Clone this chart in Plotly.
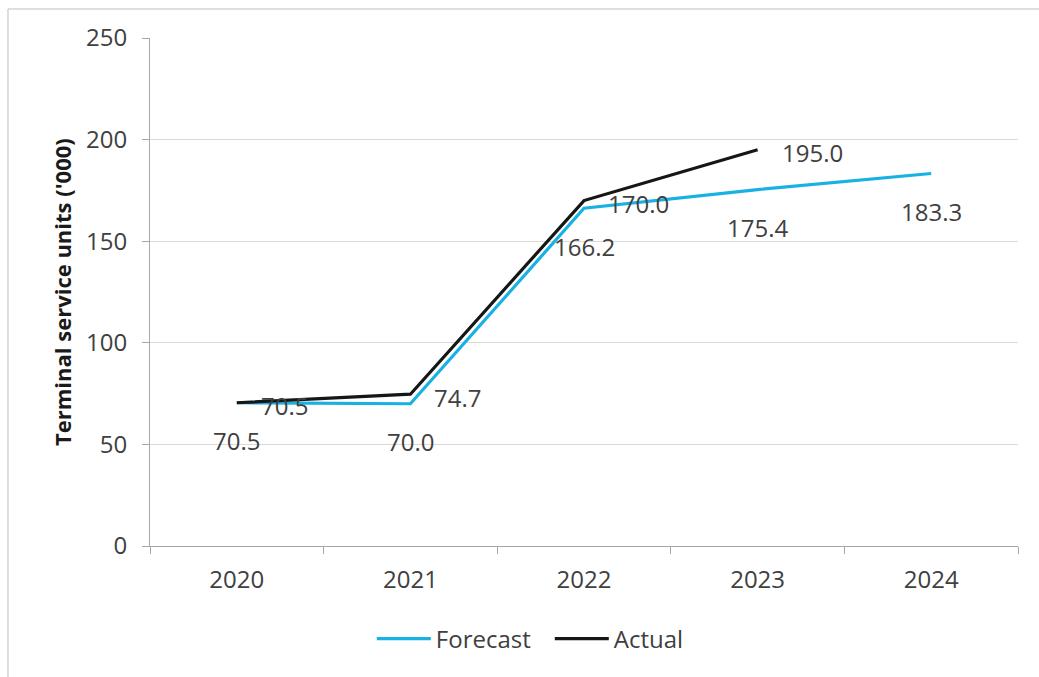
import plotly.graph_objects as go

years = ["2020", "2021", "2022", "2023", "2024"]
forecast = [70.5, 70.0, 166.2, 175.4, 183.3]
actual_years = ["2020", "2021", "2022", "2023"]
actual = [70.5, 74.7, 170.0, 195.0]

FONT = "Open Sans"
TXT = "#404040"
BLUE = "#18b1e3"
BLACK = "#161618"
FS = 24

fig = go.Figure()
fig.add_trace(go.Scatter(x=years, y=forecast, mode="lines", name="Forecast",
                         line=dict(color=BLUE, width=3.2)))
fig.add_trace(go.Scatter(x=actual_years, y=actual, mode="lines", name="Actual",
                         line=dict(color=BLACK, width=3.2)))

annotations = []
for x, v in zip(years, forecast):
    annotations.append(dict(x=years.index(x), y=v, xref="x", yref="y", text=f"{v:.1f}",
                            showarrow=False, yshift=-38, xanchor="center",
                            yanchor="middle", font=dict(family=FONT, size=FS, color=TXT)))
for x, v in zip(actual_years, actual):
    annotations.append(dict(x=years.index(x), y=v, xref="x", yref="y", text=f"{v:.1f}",
                            showarrow=False, xshift=22, yshift=-3, xanchor="left",
                            yanchor="middle", font=dict(family=FONT, size=FS, color=TXT)))
annotations.append(dict(x=-0.1014, y=0.5, xref="paper", yref="paper",
                        text="<b>Terminal service units ('000)</b>", textangle=-90,
                        showarrow=False, xanchor="center", yanchor="middle",
                        font=dict(family=FONT, size=22, color="#1a1a1a")))

fig.update_layout(
    width=1039, height=677,
    margin=dict(l=150, r=21, t=38, b=131),
    paper_bgcolor="white", plot_bgcolor="white",
    font=dict(family=FONT, size=FS, color=TXT),
    showlegend=True,
    legend=dict(orientation="h", x=0.4606, y=-0.183, xanchor="center", yanchor="middle",
                font=dict(family=FONT, size=FS, color=TXT), itemwidth=54,
                entrywidth=109, entrywidthmode="pixels",
                bgcolor="rgba(0,0,0,0)"),
    annotations=annotations,
    shapes=[dict(type="rect", xref="paper", yref="paper", x0=-0.1636, x1=1.2,
                 y0=-0.4, y1=1.0571, line=dict(color="#bfbfbf", width=1),
                 fillcolor="rgba(0,0,0,0)", layer="below")],
)
fig.update_xaxes(type="category", range=[-0.5, 4.5], showgrid=False,
                 showline=True, linecolor="#a6a6a6", linewidth=1,
                 ticks="outside", tickson="boundaries", ticklen=7, tickcolor="#a6a6a6",
                 ticklabelstandoff=12,
                 tickfont=dict(family=FONT, size=FS, color=TXT), zeroline=False)
fig.update_yaxes(range=[0, 250], dtick=50, showgrid=True, gridcolor="#d9d9d9", gridwidth=1,
                 showline=True, linecolor="#a6a6a6", linewidth=1,
                 ticks="outside", ticklen=7, tickcolor="#a6a6a6",
                 ticklabelstandoff=10,
                 tickfont=dict(family=FONT, size=FS, color=TXT), zeroline=False)

fig.write_html("out.html")
